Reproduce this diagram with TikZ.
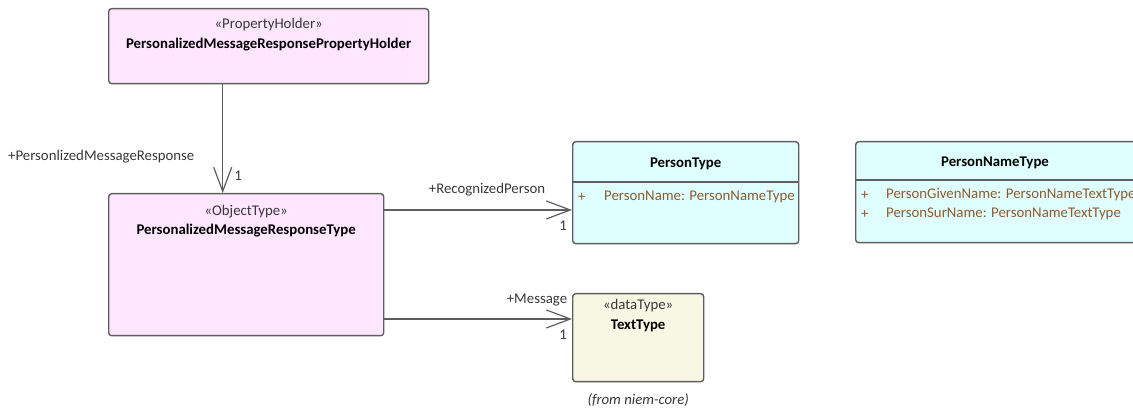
\documentclass[tikz,border=0pt]{standalone}
\usepackage{fontspec}
\setmainfont{Carlito}
\usetikzlibrary{arrows.meta, positioning}
\definecolor{objpink}{HTML}{FFE6FF}
\definecolor{clscyan}{HTML}{DFFFFF}
\definecolor{datayel}{HTML}{F7F7E4}
\definecolor{boxline}{HTML}{5E5E5E}
\definecolor{attrcol}{HTML}{8E5A2E}
\definecolor{lblcol}{HTML}{383838}
\tikzset{%
   umlbox/.style={
      draw=boxline,
      line width=1.4pt,
      rounded corners=3pt,
      anchor=north west,
      inner sep=0pt
   },
   stereo/.style={font=\fontsize{14.8}{17}\selectfont, text=lblcol, inner sep=0pt},
   clsname/.style={font=\fontsize{14.8}{17}\selectfont\bfseries, inner sep=0pt},
   attr/.style={font=\fontsize{14.8}{17}\selectfont, text=attrcol, anchor=west, inner sep=0pt},
   rolelbl/.style={font=\fontsize{14.8}{17}\selectfont, text=lblcol, inner sep=0pt},
   assoc/.style={
      draw=boxline,
      line width=1.2pt,
      -{Straight Barb[length=24pt, width=18pt]}
   },
}

\begin{document}
\begin{tikzpicture}[x=1pt, y=-1pt]
   \clip (0,0) rectangle (1133,411);
   % classes
   \node[umlbox, fill=objpink, minimum width=320pt, minimum height=75pt] (holder) at (108,8) {};
   \node[stereo] at ([yshift=-17pt]holder.north) {«PropertyHolder»};
   \node[clsname] at ([yshift=-37pt]holder.north) {PersonalizedMessageResponsePropertyHolder};

   \node[umlbox, fill=objpink, minimum width=275pt, minimum height=142pt] (msgtype) at (108,193) {};
   \node[stereo] at ([yshift=-19pt]msgtype.north) {«ObjectType»};
   \node[clsname] at ([yshift=-38pt]msgtype.north) {PersonalizedMessageResponseType};

   \node[umlbox, fill=clscyan, minimum width=226pt, minimum height=102pt] (person) at (572,141) {};
   \node[clsname] at ([yshift=-23pt]person.north) {PersonType};
   \draw[boxline, line width=1.1pt] ([yshift=-41pt]person.north west) -- ([yshift=-41pt]person.north east);
   \node[attr] at ([xshift=6pt, yshift=-56pt]person.north west) {+};
   \node[attr] at ([xshift=32pt, yshift=-56pt]person.north west) {PersonName: PersonNameType};

   \node[umlbox, fill=clscyan, minimum width=290pt, minimum height=101pt] (pname) at (855,141) {};
   \node[clsname] at ([xshift=140pt, yshift=-22pt]pname.north west) {PersonNameType};
   \draw[boxline, line width=1.1pt] ([yshift=-39pt]pname.north west) -- ([yshift=-39pt]pname.north east);
   \node[attr] at ([xshift=6pt, yshift=-54pt]pname.north west) {+};
   \node[attr] at ([xshift=31pt, yshift=-54pt]pname.north west) {PersonGivenName: PersonNameTextType};
   \node[attr] at ([xshift=6pt, yshift=-73pt]pname.north west) {+};
   \node[attr] at ([xshift=31pt, yshift=-73pt]pname.north west) {PersonSurName: PersonNameTextType};

   \node[umlbox, fill=datayel, minimum width=131pt, minimum height=88pt] (texttype) at (572,293) {};
   \node[stereo] at ([yshift=-13pt]texttype.north) {«dataType»};
   \node[clsname] at ([yshift=-33pt]texttype.north) {TextType};
   \node[stereo, font=\fontsize{14.8}{17}\selectfont\itshape, below=11pt of texttype] (pkg) {(from niem-core)};

   % associations
   \draw[assoc] ([xshift=-46pt]holder.south) -- ([xshift=-46pt]holder.south |- msgtype.north);
   \node[rolelbl, anchor=west] at (8,157) {+PersonlizedMessageResponse};
   \node[rolelbl] at (238,176) {1};

   \draw[assoc] (msgtype.east |- 0,210) -- (person.west |- 0,210);
   \node[rolelbl] at (487,190) {+RecognizedPerson};
   \node[rolelbl] at (563,226) {1};

   \draw[assoc] (msgtype.east |- 0,319) -- (texttype.west |- 0,319);
   \node[rolelbl] at (537,300) {+Message};
   \node[rolelbl] at (563,335) {1};
\end{tikzpicture}
\end{document}
